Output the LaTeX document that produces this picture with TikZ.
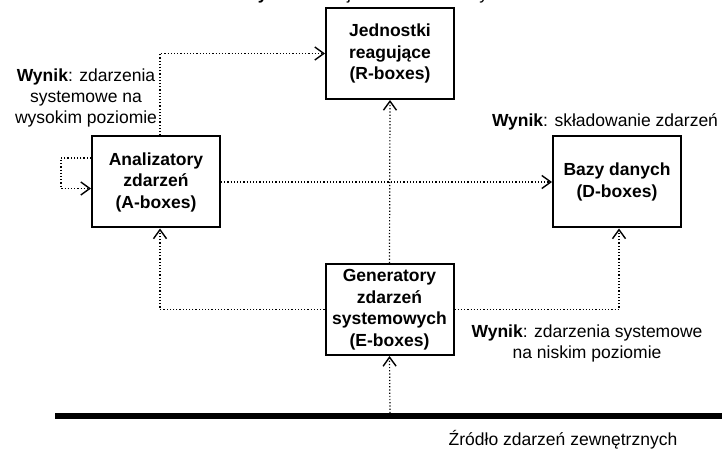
\documentclass[tikz,border=0pt]{standalone}
\usepackage{fontspec}
\setmainfont{Liberation Sans}
\usetikzlibrary{arrows.meta,calc}
\tikzset{
  box/.style={draw, line width=2pt, minimum width=128pt, minimum height=91pt,
    inner sep=2pt, align=center, font=\fontsize{17.5}{21.5}\selectfont\bfseries},
  note/.style={align=center, inner sep=0pt, font=\fontsize{17.5}{21}\selectfont},
  link/.style={dotted, line width=1.2pt, -{Straight Barb[length=9pt,width=13pt,line width=1.4pt]}}
}
\begin{document}
\begin{tikzpicture}[x=1pt,y=-1pt]
			%%%%% START %%%%%
			\useasboundingbox (0,0) rectangle (722,454);
			
			\node[box] (R) at (390,53.5) {Jednostki\\reagujące\\(R-boxes)};
			\node[box] (A) at (156,182) {Analizatory\\zdarzeń\\(A-boxes)};
			\node[box] (D) at (617,182) {Bazy danych\\(D-boxes)};
			\node[box] (E) at (389.5,309.5) {Generatory\\zdarzeń\\systemowych\\(E-boxes)};
			
			\coordinate (srcL) at (55,416);
			\coordinate (srcR) at (722,416);
			\coordinate (src) at (390,413);
			\draw[line width=6pt] (srcL) -- (srcR);
			
			\node[note, anchor=base] (topnote) at (400,-0.7) {\textbf{Wynik}: reakcja na zdarzenia systemowe};
			\node[note] (anote) at (86,98) {\textbf{Wynik}: zdarzenia\\systemowe na\\wysokim poziomie};
			\node[note] (dnote) at (605,122) {\textbf{Wynik}: składowanie zdarzeń};
			\node[note] (enote) at (587,343) {\textbf{Wynik}: zdarzenia systemowe\\na niskim poziomie};
			\node[note] (srcnote) at (563,440) {Źródło zdarzeń zewnętrznych};
			
			\draw[link] (src) -- (E.south);
			\draw[link] (E.north) -- (R.south);
			\draw[link] (A.east) -- (D.west);
			\draw[link] ([xshift=4pt]A.north) |- (R.west);
			\draw[link] ([yshift=24pt]A.west) -- ++(-30,0) |- ([yshift=-6.5pt]A.west);
			\draw[link] (E.west) -| ([xshift=4pt]A.south);
			\draw[link] (E.east) -| ([xshift=2pt]D.south);
			
			%%%%% END %%%%%
\end{tikzpicture}
\end{document}
